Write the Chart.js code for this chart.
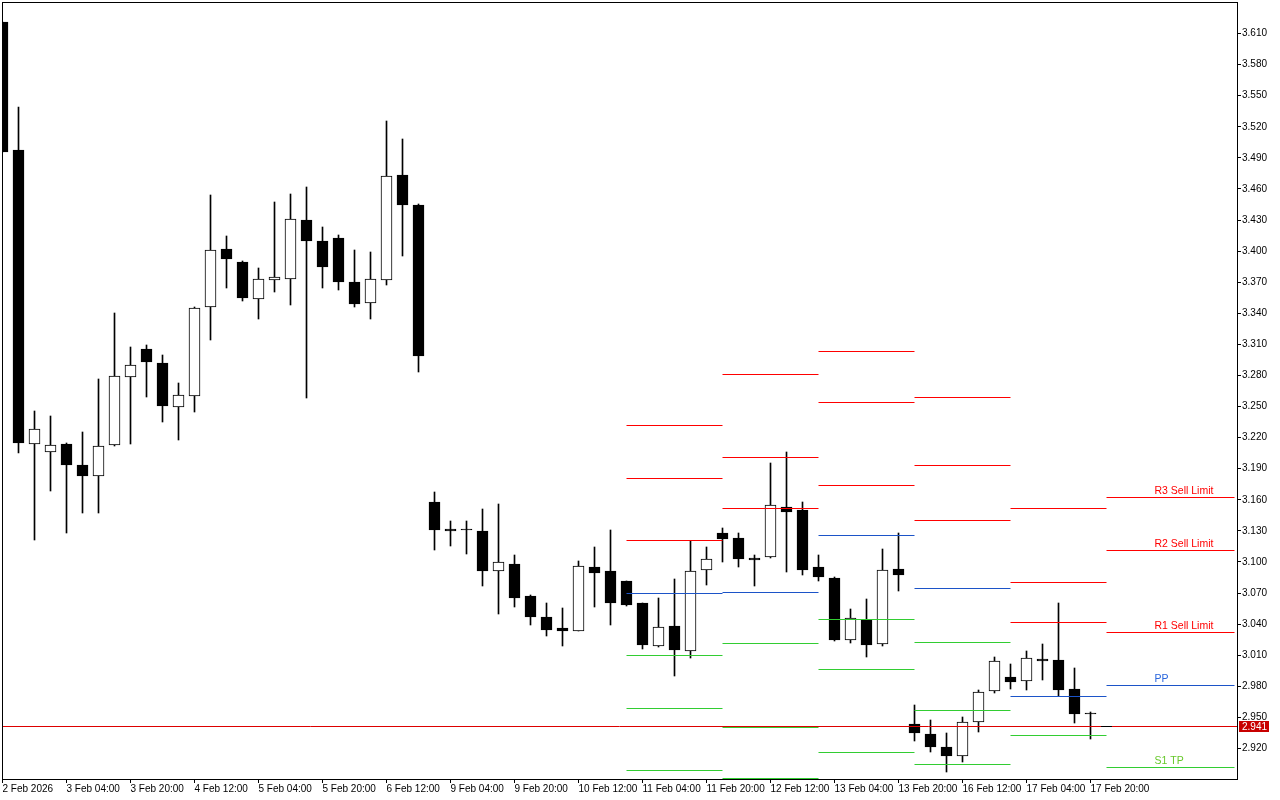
<!DOCTYPE html>
<html>
<head>
<meta charset="utf-8">
<script src="https://cdn.jsdelivr.net/npm/chart.js@4/dist/chart.umd.min.js"></script>
<style>
html,body{margin:0;padding:0;background:#ffffff;}
#wrap{width:1280px;height:800px;}
</style>
</head>
<body>
<div id="wrap"><canvas id="c" width="1280" height="800"></canvas></div>
<script>
// ---------------- DATA ----------------
const candleTimes = [
 "2 Feb 12:00","2 Feb 16:00","2 Feb 20:00",
 "3 Feb 00:00","3 Feb 04:00","3 Feb 08:00","3 Feb 12:00","3 Feb 16:00","3 Feb 20:00",
 "4 Feb 00:00","4 Feb 04:00","4 Feb 08:00","4 Feb 12:00","4 Feb 16:00","4 Feb 20:00",
 "5 Feb 00:00","5 Feb 04:00","5 Feb 08:00","5 Feb 12:00","5 Feb 16:00","5 Feb 20:00",
 "6 Feb 00:00","6 Feb 04:00","6 Feb 08:00","6 Feb 12:00","6 Feb 16:00","6 Feb 20:00",
 "9 Feb 00:00","9 Feb 04:00","9 Feb 08:00","9 Feb 12:00","9 Feb 16:00","9 Feb 20:00",
 "10 Feb 00:00","10 Feb 04:00","10 Feb 08:00","10 Feb 12:00","10 Feb 16:00","10 Feb 20:00",
 "11 Feb 00:00","11 Feb 04:00","11 Feb 08:00","11 Feb 12:00","11 Feb 16:00","11 Feb 20:00",
 "12 Feb 00:00","12 Feb 04:00","12 Feb 08:00","12 Feb 12:00","12 Feb 16:00","12 Feb 20:00",
 "13 Feb 00:00","13 Feb 04:00","13 Feb 08:00","13 Feb 12:00","13 Feb 16:00","13 Feb 20:00",
 "16 Feb 00:00","16 Feb 04:00","16 Feb 08:00","16 Feb 12:00","16 Feb 16:00","16 Feb 20:00",
 "17 Feb 00:00","17 Feb 04:00","17 Feb 08:00","17 Feb 12:00","17 Feb 16:00","17 Feb 20:00"
];

const openP = [
 3.6209,3.4974,3.2136,3.2058,3.2138,3.1933,3.1827,3.2126,3.2782,3.3052,
 3.2920,3.2492,3.2604,3.3457,3.4019,3.3895,3.3534,3.3717,3.3727,3.4299,
 3.4097,3.4126,3.3701,3.3496,3.3717,3.4733,3.4444,3.1579,3.1319,3.1310,
 3.1299,3.0910,3.0981,3.0672,3.0470,3.0361,3.0332,3.0952,3.0913,3.0817,
 3.0600,3.0193,3.0380,3.0139,3.0920,3.1277,3.1229,3.1039,3.1045,3.1528,
 3.1502,3.0952,3.0846,3.0245,3.0444,3.0212,3.0933,2.9438,2.9341,2.9216,
 2.9126,2.9454,2.9753,2.9888,2.9852,3.0062,3.0055,2.9775,2.9534
];
const highP = [
 3.6209,3.5389,3.2457,3.2409,3.2145,3.2251,3.2765,3.3402,3.3074,3.3093,
 3.2997,3.2727,3.3460,3.4540,3.4145,3.3904,3.3836,3.4473,3.4550,3.4617,
 3.4232,3.4154,3.4010,3.3990,3.5254,3.5080,3.4453,3.1675,3.1396,3.1396,
 3.1511,3.1560,3.1068,3.0685,3.0605,3.0556,3.1010,3.1145,3.1309,3.0817,
 3.0605,3.0653,3.0836,3.1206,3.1145,3.1328,3.1280,3.1071,3.1955,3.2061,
 3.1579,3.1068,3.0858,3.0547,3.0643,3.1126,3.1280,2.9621,2.9476,2.9351,
 2.9505,2.9766,3.0081,3.0019,3.0145,3.0212,3.0605,2.9978,2.9553
];
const lowP = [
 3.4958,3.2049,3.1212,3.1688,3.1283,3.1476,3.1476,3.2120,3.2136,3.2595,
 3.2354,3.2180,3.2450,3.3144,3.3646,3.3521,3.3347,3.3608,3.3476,3.2579,
 3.3646,3.3627,3.3463,3.3347,3.3675,3.3955,3.2836,3.1119,3.1155,3.1080,
 3.0772,3.0501,3.0569,3.0395,3.0289,3.0193,3.0330,3.0569,3.0395,3.0579,
 3.0164,3.0183,2.9903,3.0077,3.0781,3.1003,3.0955,3.0772,3.1040,3.0904,
 3.0878,3.0820,3.0241,3.0222,3.0087,3.0193,3.0723,2.9276,2.9170,2.8977,
 2.9074,2.9363,2.9734,2.9778,2.9768,2.9865,2.9710,2.9450,2.9296
];
const closeP = [
 3.4958,3.2145,3.2280,3.2126,3.1939,3.1833,3.2116,3.2791,3.2898,3.2932,
 3.2508,3.2608,3.3447,3.4010,3.3926,3.3550,3.3727,3.3746,3.4306,3.4099,
 3.3849,3.3704,3.3492,3.3727,3.4721,3.4447,3.2990,3.1312,3.1302,3.1308,
 3.0916,3.0997,3.0656,3.0473,3.0347,3.0338,3.0959,3.0897,3.0608,3.0588,
 3.0202,3.0370,3.0154,3.0910,3.1026,3.1225,3.1032,3.1022,3.1547,3.1485,
 3.0926,3.0858,3.0248,3.0457,3.0202,3.0923,3.0878,2.9348,2.9219,2.9132,
 2.9454,2.9746,3.0042,2.9840,3.0071,3.0042,2.9763,2.9537,2.9534
];

const tickIndex = [0,4,8,12,16,20,24,28,32,36,40,44,48,52,56,60,64,68];
const tickLabels = ["2 Feb 2026","3 Feb 04:00","3 Feb 20:00","4 Feb 12:00","5 Feb 04:00",
 "5 Feb 20:00","6 Feb 12:00","9 Feb 04:00","9 Feb 20:00","10 Feb 12:00","11 Feb 04:00",
 "11 Feb 20:00","12 Feb 12:00","13 Feb 04:00","13 Feb 20:00","16 Feb 12:00","17 Feb 04:00","17 Feb 20:00"];
const yTicks = [2.920,2.950,2.980,3.010,3.040,3.070,3.100,3.130,3.160,3.190,3.220,3.250,
 3.280,3.310,3.340,3.370,3.400,3.430,3.460,3.490,3.520,3.550,3.580,3.610];

// daily pivot segments (11, 12, 13, 16, 17, 18 Feb)
const pivotStart = [39,45,51,57,63,69];
const pivotEnd   = [45,51,57,63,69,77];
const R3 = [3.2319,3.2814,3.3033,3.2589,3.1518,3.1624];
const R2 = [3.1808,3.2010,3.2541,3.1933,3.0804,3.1113];
const R1 = [3.1209,3.1518,3.1740,3.1402,3.0418,3.0322];
const PP = [3.0698,3.0708,3.1258,3.0746,2.9705,2.9811];
const S1 = [3.0100,3.0216,3.0447,3.0226,2.9328,2.9020];
const S2 = [2.9589,2.9406,2.9965,2.9570,null,null];
const S3 = [2.8991,2.8914,2.9164,2.9049,null,null];
const pivotTags = ["R3 Sell Limit","R2 Sell Limit","R1 Sell Limit","PP","S1 TP"];
const pivotTagAt = 72;
const currentPrice = 2.941;
const askMark = [68.66, 69.34];   // short dark marker on the price line

// ---------------- STYLE ----------------
const X_MIN = -0.03125, X_MAX = -0.03125 + 1235/16;
const Y_MIN = 2.89056, Y_MAX = 3.64040;
const RED = '#ff0000', BLUE = '#1c54c8', GREEN = '#32cd32';
const FONT = 'Liberation Sans';

Chart.defaults.font.family = FONT;
Chart.defaults.font.size = 10;
Chart.defaults.color = '#000000';

const wickData = highP.map((h,i)=>({x:i, y:[lowP[i], h]}));
const bodyData = openP.map((o,i)=>({x:i, y:[o, closeP[i]]}));
const bodyColors = openP.map((o,i)=> closeP[i] > o ? '#ffffff' : '#000000');

function segs(levels){
  const d = [];
  levels.forEach((v,i)=>{
    if (v === null) return;
    d.push({x:pivotStart[i], y:v},{x:pivotEnd[i], y:v},{x:pivotEnd[i], y:null});
  });
  return d;
}
function lineDs(data, color){
  return {type:'line', data, borderColor:color, borderWidth:1, pointRadius:0,
          spanGaps:false, tension:0, order:0, fill:false};
}
function noPad(s){ s.paddingLeft = 0; s.paddingRight = 0; s.paddingTop = 0; s.paddingBottom = 0; }

// align rendered elements to device pixels so 1px strokes stay crisp
const pixelSnap = {
  id:'pixelSnap',
  beforeDatasetsDraw(chart){
    chart.getSortedVisibleDatasetMetas().forEach(meta=>{
      if (meta.type === 'line') {
        meta.data.forEach(p=>{ if (!p.skip && isFinite(p.y)) p.y = Math.floor(p.y) + 0.5; });
      } else if (meta.type === 'bar') {
        meta.data.forEach(b=>{ b.y = Math.round(b.y); b.base = Math.round(b.base); });
      }
    });
  }
};

const overlay = {
  id:'overlay',
  afterDatasetsDraw(chart){
    const ctx = chart.ctx, xs = chart.scales.x, ys = chart.scales.y;
    const last = pivotStart.length - 1;
    const tagVals = [R3[last], R2[last], R1[last], PP[last], S1[last]];
    const tagCols = [RED, RED, RED, '#2a66dd', '#66c82a'];
    ctx.save();
    ctx.font = '10.5px ' + FONT;
    ctx.textAlign = 'left';
    ctx.textBaseline = 'alphabetic';
    tagVals.forEach((v,k)=>{
      ctx.fillStyle = tagCols[k];
      ctx.fillText(pivotTags[k], xs.getPixelForValue(pivotTagAt), Math.floor(ys.getPixelForValue(v)) - 3);
    });
    ctx.restore();
  },
  afterDraw(chart){
    const ctx = chart.ctx, ys = chart.scales.y, a = chart.chartArea;
    ctx.save();
    ctx.strokeStyle = '#000000';
    ctx.lineWidth = 1;
    ctx.strokeRect(a.left + 0.5, a.top + 0.5, a.right - a.left, a.bottom - a.top);
    const py = Math.floor(ys.getPixelForValue(currentPrice));
    ctx.fillStyle = '#c80000';
    ctx.fillRect(a.right + 2, py - 5, 30, 11);
    ctx.fillStyle = '#ffffff';
    ctx.font = '10px ' + FONT;
    ctx.textAlign = 'left';
    ctx.textBaseline = 'middle';
    ctx.fillText(currentPrice.toFixed(3), a.right + 5, py + 1);
    ctx.restore();
  }
};

const askDs = lineDs([{x:askMark[0], y:currentPrice},{x:askMark[1], y:currentPrice}], '#000000');
askDs.order = -1;

new Chart(document.getElementById('c'), {
  type:'bar',
  data:{
    datasets:[
      lineDs(segs(R3), RED), lineDs(segs(R2), RED), lineDs(segs(R1), RED),
      lineDs(segs(PP), BLUE),
      lineDs(segs(S1), GREEN), lineDs(segs(S2), GREEN), lineDs(segs(S3), GREEN),
      lineDs([{x:X_MIN, y:currentPrice},{x:X_MAX, y:currentPrice}], '#dd0000'),
      askDs,
      {type:'bar', data:bodyData, backgroundColor:bodyColors, borderColor:'#000000',
       borderWidth:1, borderSkipped:false, barThickness:11, grouped:false, minBarLength:1, order:1},
      {type:'bar', data:wickData, backgroundColor:'#000000', borderWidth:0,
       barThickness:1, grouped:false, order:2}
    ]
  },
  options:{
    responsive:false, animation:false, events:[],
    layout:{padding:{left:2, top:2, right:0, bottom:0}},
    plugins:{legend:{display:false}, tooltip:{enabled:false}},
    scales:{
      x:{
        type:'linear', position:'bottom', min:X_MIN, max:X_MAX, offset:false,
        grid:{display:true, offset:false, drawOnChartArea:false, drawTicks:true, tickLength:4, color:'#000000'},
        border:{display:false},
        afterBuildTicks(s){ s.ticks = tickIndex.map(v=>({value:v})); },
        afterFit(s){ s.height = 21; noPad(s); },
        ticks:{autoSkip:false, maxRotation:0, minRotation:0, align:'start', padding:0,
               color:'#000000', font:{size:10, family:FONT},
               callback(v){ const k = tickIndex.indexOf(v); return k >= 0 ? tickLabels[k] : ''; }}
      },
      y:{
        type:'linear', position:'right', min:Y_MIN, max:Y_MAX,
        grid:{display:true, drawOnChartArea:false, drawTicks:true, tickLength:4, color:'#000000'},
        border:{display:false},
        afterBuildTicks(s){ s.ticks = yTicks.map(v=>({value:v})); },
        afterFit(s){ s.width = 43; noPad(s); },
        ticks:{autoSkip:false, padding:1, color:'#000000', font:{size:10, family:FONT},
               callback(v){ return Number(v).toFixed(3); }}
      }
    }
  },
  plugins:[pixelSnap, overlay]
});
</script>
</body>
</html>
